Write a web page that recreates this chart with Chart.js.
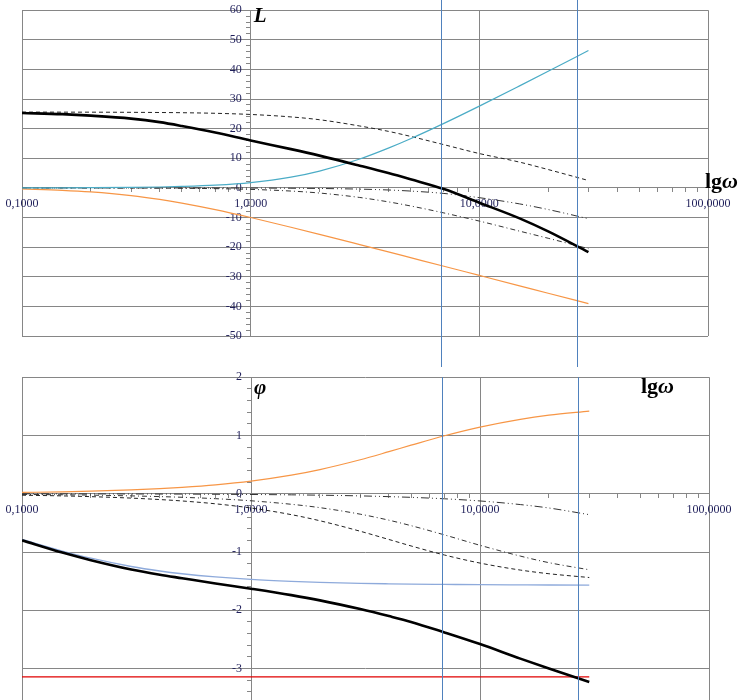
<!DOCTYPE html>
<html>
<head>
<meta charset="utf-8">
<script src="https://cdn.jsdelivr.net/npm/chart.js@4.4.1/dist/chart.umd.min.js"></script>
<style>
  html, body {margin: 0; padding: 0; background: #fff; overflow: hidden; width: 743px; height: 700px;}
  canvas {position: absolute; left: 0;}
  #amp {top: 0;}
  #phase {top: 367px;}
</style>
</head>
<body>
<canvas id="amp" width="743" height="367"></canvas>
<canvas id="phase" width="743" height="370"></canvas>
<script>
// frequencies, rad/s
const omega = [0.1, 0.15, 0.2, 0.3, 0.4, 0.5, 0.7, 1, 1.5, 2, 3, 4, 5, 7, 10, 15, 20, 30]

// L(w), dB
const ampTotal = [25.3, 24.9, 24.4, 23.4, 22.2, 20.9, 18.7, 16.0, 13.1, 10.9, 7.5, 5.0, 2.9, -0.4, -5.0, -10.3, -14.7, -21.7]
const ampLead = [0.02, 0.04, 0.08, 0.18, 0.31, 0.49, 0.93, 1.80, 3.63, 5.67, 9.75, 13.42, 16.60, 21.79, 27.62, 34.46, 39.38, 46.38]
const ampLag = [-0.37, -0.80, -1.34, -2.58, -3.87, -5.12, -7.33, -10.0, -13.27, -15.68, -19.14, -21.61, -23.54, -26.45, -29.55, -33.07, -35.56, -39.09]
const ampGain = [25.6, 25.58, 25.57, 25.52, 25.46, 25.39, 25.19, 24.8, 23.97, 23.02, 20.9, 19.1, 17.4, 14.6, 11.6, 8.7, 6.2, 2.5]
const ampFast = [0, 0, 0, 0, 0, -0.01, -0.02, -0.05, -0.11, -0.19, -0.41, -0.70, -1.06, -1.87, -3.3, -5.4, -7.3, -10.4]
const ampMid = [-0.01, -0.01, -0.02, -0.05, -0.08, -0.13, -0.25, -0.5, -1.06, -1.73, -3.23, -4.71, -6.09, -8.45, -11.2, -14.6, -17.0, -20.5]

// phi(w), rad
const phTotal = [-0.80, -1.01, -1.14, -1.30, -1.39, -1.45, -1.54, -1.63, -1.74, -1.83, -1.98, -2.10, -2.20, -2.38, -2.58, -2.83, -3.0, -3.23]
const phLead = [0.022, 0.033, 0.044, 0.066, 0.088, 0.11, 0.153, 0.217, 0.319, 0.415, 0.583, 0.722, 0.833, 0.995, 1.144, 1.277, 1.348, 1.419]
const phInteg = [-0.785, -0.983, -1.107, -1.249, -1.326, -1.373, -1.428, -1.471, -1.504, -1.521, -1.538, -1.546, -1.551, -1.556, -1.561, -1.564, -1.566, -1.568]
const phGain = [-0.025, -0.037, -0.05, -0.075, -0.1, -0.124, -0.173, -0.245, -0.359, -0.464, -0.644, -0.785, -0.896, -1.052, -1.19, -1.31, -1.373, -1.438]
const phMid = [-0.012, -0.018, -0.024, -0.037, -0.049, -0.061, -0.085, -0.121, -0.181, -0.239, -0.351, -0.454, -0.548, -0.707, -0.885, -1.07, -1.183, -1.305]
const phFast = [-0.001, -0.002, -0.003, -0.004, -0.005, -0.006, -0.009, -0.013, -0.019, -0.025, -0.037, -0.05, -0.062, -0.087, -0.124, -0.186, -0.245, -0.359]
const phaseLimit = -3.1416

// crossover frequencies (blue markers)
const crossovers = [6.8, 26.7]

// axis ticks
const decades = [0.1, 1, 10, 100]
const decadeLabels = ['0,1000', '1,0000', '10,0000', '100,0000']
const minorSteps = [2, 3, 4, 5, 6, 7, 8, 9]


const gridColor = '#868686'
const labelColor = '#1f1f5a'
const serif = "'Liberation Serif', 'Times New Roman', serif"
const tickFont = {family: serif, size: 12}

const decadeIndex = v => decades.findIndex(d => Math.abs(v - d) / d < 1e-9)
const isMultiple = (v, m) => Math.abs(v / m - Math.round(v / m)) < 1e-6

function series(values, color, width, dash) {
  return {
    data: omega.map((w, i) => ({x: w, y: values[i]})),
    borderColor: color,
    borderWidth: width,
    borderDash: dash || [],
    pointRadius: 0,
    fill: false,
    cubicInterpolationMode: 'monotone',
  }
}

function scales(yMin, yMax, yStep, yMajor) {
  return {
    x: {
      type: 'logarithmic',
      min: decades[0],
      max: decades[decades.length - 1],
      position: {y: 0},
      afterBuildTicks: scale => {
        const t = []
        decades.forEach((d, i) => {
          t.push({value: d})
          if (i < decades.length - 1) minorSteps.forEach(k => t.push({value: d * k}))
        })
        scale.ticks = t
      },
      grid: {
        color: c => c.tick && decadeIndex(c.tick.value) >= 0 ? gridColor : 'rgba(0,0,0,0)',
        tickColor: gridColor,
        tickLength: 4,
      },
      border: {color: gridColor},
      ticks: {
        autoSkip: false,
        maxRotation: 0,
        padding: 5,
        font: tickFont,
        color: labelColor,
        callback: v => {
          const i = decadeIndex(v)
          return i >= 0 ? decadeLabels[i] : ''
        },
      },
    },
    y: {
      type: 'linear',
      min: yMin,
      max: yMax,
      position: {x: 1},
      grid: {
        color: c => c.tick && isMultiple(c.tick.value, yMajor) ? gridColor : 'rgba(0,0,0,0)',
        tickColor: gridColor,
        tickLength: 4,
      },
      border: {color: gridColor},
      ticks: {
        stepSize: yStep,
        autoSkip: false,
        font: tickFont,
        color: labelColor,
        callback: v => isMultiple(v, yMajor) ? Math.round(v) + '   ' : '',
      },
    },
  }
}

const marks = {
  id: 'marks',
  afterDatasetsDraw(chart, args, opts) {
    const {ctx, chartArea, scales: {x, y}} = chart
    ctx.save()
    ctx.strokeStyle = '#4f81bd'
    ctx.lineWidth = 1
    crossovers.forEach(w => {
      const px = Math.round(x.getPixelForValue(w)) + 0.5
      ctx.beginPath()
      ctx.moveTo(px, opts.fromTop ? 0 : chartArea.top)
      ctx.lineTo(px, chart.height)
      ctx.stroke()
    })
    ctx.fillStyle = '#000'
    ctx.textBaseline = 'alphabetic'
    ctx.textAlign = 'left'
    // axis name
    ctx.font = 'italic bold 21px ' + serif
    ctx.fillText(opts.yName, x.getPixelForValue(1) + 3, chartArea.top + opts.yNameDy)
    // lg w
    const lx = opts.lgX(chart), ly = opts.lgY(chart)
    ctx.font = 'bold 22px ' + serif
    ctx.fillText('lg', lx, ly)
    const wlg = ctx.measureText('lg').width
    ctx.font = 'italic bold 22px ' + serif
    ctx.fillText('ω', lx + wlg, ly)
    ctx.restore()
  },
}

Chart.defaults.animation = false

new Chart(document.getElementById('amp'), {
  type: 'line',
  data: {
    datasets: [
      series(ampTotal, '#000000', 2.6),
      series(ampLead, '#4bacc6', 1.2),
      series(ampLag, '#f79646', 1.2),
      series(ampGain, '#222222', 1, [4, 3]),
      series(ampFast, '#333333', 1, [8, 3, 1, 3, 1, 3]),
      series(ampMid, '#333333', 1, [5, 3, 1, 3]),
    ],
  },
  options: {
    responsive: false,
    layout: {padding: {left: 22, right: 35, top: 8, bottom: 31}},
    plugins: {
      legend: {display: false},
      tooltip: {enabled: false},
      marks: {
        fromTop: true,
        yName: 'L',
        yNameDy: 12,
        lgX: c => c.chartArea.right - 3,
        lgY: c => c.scales.y.getPixelForValue(0),
      },
    },
    scales: scales(-50, 60, 2, 10),
  },
  plugins: [marks],
})

const phaseData = [
  series(phTotal, '#000000', 2.6),
  series(phInteg, '#8eaadb', 1.3),
  series(phLead, '#f79646', 1.2),
  series(phGain, '#222222', 1, [4, 3]),
  series(phMid, '#333333', 1, [5, 3, 1, 3]),
  series(phFast, '#333333', 1, [8, 3, 1, 3, 1, 3]),
  {
    data: [{x: omega[0], y: phaseLimit}, {x: omega[omega.length - 1], y: phaseLimit}],
    borderColor: '#e00000',
    borderWidth: 1.2,
    pointRadius: 0,
  },
]

new Chart(document.getElementById('phase'), {
  type: 'line',
  data: {datasets: phaseData},
  options: {
    responsive: false,
    layout: {padding: {left: 22, right: 34, top: 7, bottom: 9}},
    plugins: {
      legend: {display: false},
      tooltip: {enabled: false},
      marks: {
        fromTop: false,
        yName: 'φ',
        yNameDy: 17,
        lgX: c => c.chartArea.right - 68,
        lgY: c => c.chartArea.top + 16,
      },
    },
    scales: scales(-4, 2, 0.2, 1),
  },
  plugins: [marks],
})
</script>
</body>
</html>
